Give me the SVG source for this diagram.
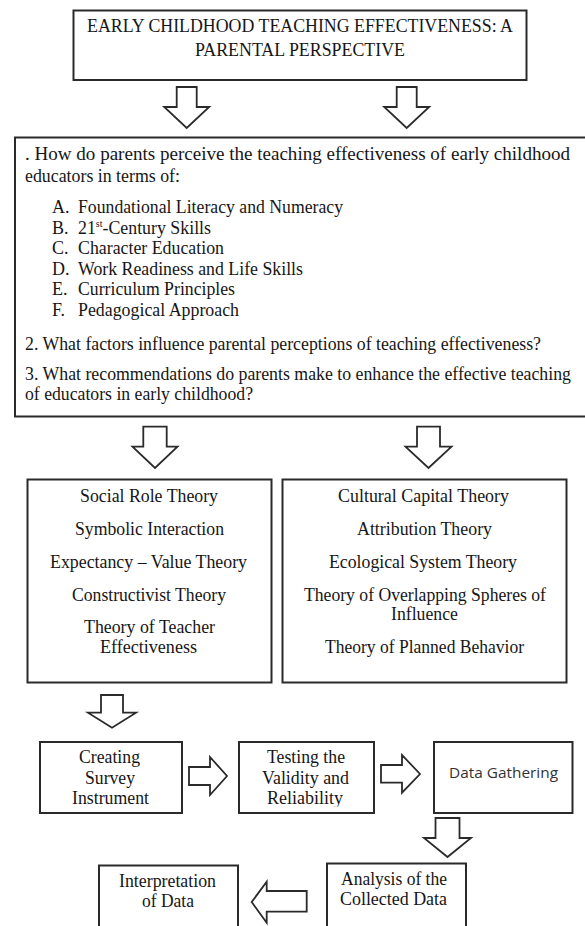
<svg xmlns="http://www.w3.org/2000/svg" width="585" height="926" viewBox="0 0 585 926">
<style>
.box{fill:#fff;stroke:#2a2a2a;stroke-width:2}
.arr{fill:#fff;stroke:#2a2a2a;stroke-width:1.8;stroke-linejoin:miter}
.t{font-family:"Liberation Serif","Times New Roman",serif;font-size:18px;fill:#161616}
.s{font-family:"Open Sans","Noto Sans",sans-serif;font-size:14.5px;fill:#333}
</style>
<defs>
<clipPath id="clipRel"><rect x="240" y="742" width="134" height="64.5"/></clipPath>
</defs>
<rect width="585" height="926" fill="#fff"/>

<g id="title">
<rect class="box" x="73.5" y="10.5" width="453" height="69.5"/>
<text class="t" x="87" y="31.5" textLength="426" lengthAdjust="spacingAndGlyphs">EARLY CHILDHOOD TEACHING EFFECTIVENESS: A</text>
<text class="t" x="195" y="56" textLength="210" lengthAdjust="spacingAndGlyphs">PARENTAL PERSPECTIVE</text>
</g>

<g id="questions">
<rect class="box" x="15" y="137.5" width="580" height="279"/>
<text class="t" x="25" y="160" textLength="545" lengthAdjust="spacingAndGlyphs">. How do parents perceive the teaching effectiveness of early childhood</text>
<text class="t" x="25" y="181.5" textLength="155" lengthAdjust="spacingAndGlyphs">educators in terms of:</text>
<text class="t" x="52" y="213">A.</text>
<text class="t" x="78" y="213" textLength="265" lengthAdjust="spacingAndGlyphs">Foundational Literacy and Numeracy</text>
<text class="t" x="52" y="233.5">B.</text>
<text class="t" x="78" y="233.5" textLength="133" lengthAdjust="spacingAndGlyphs">21<tspan font-size="10" dy="-7">st</tspan><tspan dy="7">-Century Skills</tspan></text>
<text class="t" x="52" y="254">C.</text>
<text class="t" x="78" y="254" textLength="146" lengthAdjust="spacingAndGlyphs">Character Education</text>
<text class="t" x="52" y="274.5">D.</text>
<text class="t" x="78" y="274.5" textLength="225" lengthAdjust="spacingAndGlyphs">Work Readiness and Life Skills</text>
<text class="t" x="52" y="295">E.</text>
<text class="t" x="78" y="295" textLength="157" lengthAdjust="spacingAndGlyphs">Curriculum Principles</text>
<text class="t" x="52" y="315.5">F.</text>
<text class="t" x="78" y="315.5" textLength="161" lengthAdjust="spacingAndGlyphs">Pedagogical Approach</text>
<text class="t" x="25" y="350" textLength="516" lengthAdjust="spacingAndGlyphs">2. What factors influence parental perceptions of teaching effectiveness?</text>
<text class="t" x="25" y="380" textLength="546" lengthAdjust="spacingAndGlyphs">3. What recommendations do parents make to enhance the effective teaching</text>
<text class="t" x="25" y="400" textLength="228" lengthAdjust="spacingAndGlyphs">of educators in early childhood?</text>
</g>

<g id="theories-left">
<rect class="box" x="27.5" y="479.5" width="244" height="203"/>
<text class="t" x="80" y="502" textLength="138" lengthAdjust="spacingAndGlyphs">Social Role Theory</text>
<text class="t" x="75" y="535" textLength="149" lengthAdjust="spacingAndGlyphs">Symbolic Interaction</text>
<text class="t" x="50" y="567.5" textLength="197" lengthAdjust="spacingAndGlyphs">Expectancy – Value Theory</text>
<text class="t" x="72" y="600.5" textLength="154" lengthAdjust="spacingAndGlyphs">Constructivist Theory</text>
<text class="t" x="84" y="632.5" textLength="131" lengthAdjust="spacingAndGlyphs">Theory of Teacher</text>
<text class="t" x="100" y="653" textLength="97" lengthAdjust="spacingAndGlyphs">Effectiveness</text>
</g>

<g id="theories-right">
<rect class="box" x="282.5" y="479.5" width="284" height="203"/>
<text class="t" x="338" y="502" textLength="171" lengthAdjust="spacingAndGlyphs">Cultural Capital Theory</text>
<text class="t" x="357" y="535" textLength="135" lengthAdjust="spacingAndGlyphs">Attribution Theory</text>
<text class="t" x="329" y="567.5" textLength="188" lengthAdjust="spacingAndGlyphs">Ecological System Theory</text>
<text class="t" x="304" y="600.5" textLength="242" lengthAdjust="spacingAndGlyphs">Theory of Overlapping Spheres of</text>
<text class="t" x="391" y="620" textLength="67" lengthAdjust="spacingAndGlyphs">Influence</text>
<text class="t" x="325" y="653" textLength="199" lengthAdjust="spacingAndGlyphs">Theory of Planned Behavior</text>
</g>

<g id="creating">
<rect class="box" x="40" y="742" width="142" height="71"/>
<text class="t" x="79" y="763" textLength="61" lengthAdjust="spacingAndGlyphs">Creating</text>
<text class="t" x="85" y="784" textLength="50" lengthAdjust="spacingAndGlyphs">Survey</text>
<text class="t" x="72" y="804" textLength="77" lengthAdjust="spacingAndGlyphs">Instrument</text>
</g>

<g id="testing">
<rect class="box" x="239" y="742" width="135" height="71"/>
<text class="t" x="267" y="763" textLength="78" lengthAdjust="spacingAndGlyphs">Testing the</text>
<text class="t" x="262" y="784" textLength="87" lengthAdjust="spacingAndGlyphs">Validity and</text>
<text class="t" x="267" y="804" textLength="76" lengthAdjust="spacingAndGlyphs" clip-path="url(#clipRel)">Reliability</text>
</g>

<g id="gathering">
<rect class="box" x="434" y="742" width="138.5" height="71"/>
<text class="s" x="449" y="778" textLength="109" lengthAdjust="spacingAndGlyphs">Data Gathering</text>
</g>

<g id="analysis">
<rect class="box" x="327" y="863.5" width="139" height="80"/>
<text class="t" x="341" y="885" textLength="106" lengthAdjust="spacingAndGlyphs">Analysis of the</text>
<text class="t" x="340" y="905" textLength="107" lengthAdjust="spacingAndGlyphs">Collected Data</text>
</g>

<g id="interpretation">
<rect class="box" x="99" y="865.5" width="139" height="80"/>
<text class="t" x="119" y="886.5" textLength="97" lengthAdjust="spacingAndGlyphs">Interpretation</text>
<text class="t" x="142" y="906.5" textLength="52" lengthAdjust="spacingAndGlyphs">of Data</text>
</g>

<g id="connectors">
<path class="arr" d="M176.7,87 H196.7 V107 H209.2 L186.7,128 L164.2,107 H176.7 Z"/>
<path class="arr" d="M396.7,87 H416.7 V107 H429.2 L406.7,128 L384.2,107 H396.7 Z"/>
<path class="arr" d="M143.3,426.7 H166.7 V446.7 H177.5 L155,468 L132.5,446.7 H143.3 Z"/>
<path class="arr" d="M417,426.7 H440 V446.7 H451.5 L428.5,468 L405.5,446.7 H417 Z"/>
<path class="arr" d="M101,695 H123 V712.7 H136 L112,727.7 L88,712.7 H101 Z"/>
<path class="arr" d="M189,767 H210 V757 L227,776 L210,795 V785 H189 Z"/>
<path class="arr" d="M381,765 H402 V755 L420,774 L402,792.7 V782.7 H381 Z"/>
<path class="arr" d="M435.5,818 H459.5 V838 H471 L447.5,857 L424,838 H435.5 Z"/>
<path class="arr" d="M306.7,891 H266.7 V881.7 L251.7,902 L266.7,922.7 V911.7 H306.7 Z"/>
</g>
</svg>
